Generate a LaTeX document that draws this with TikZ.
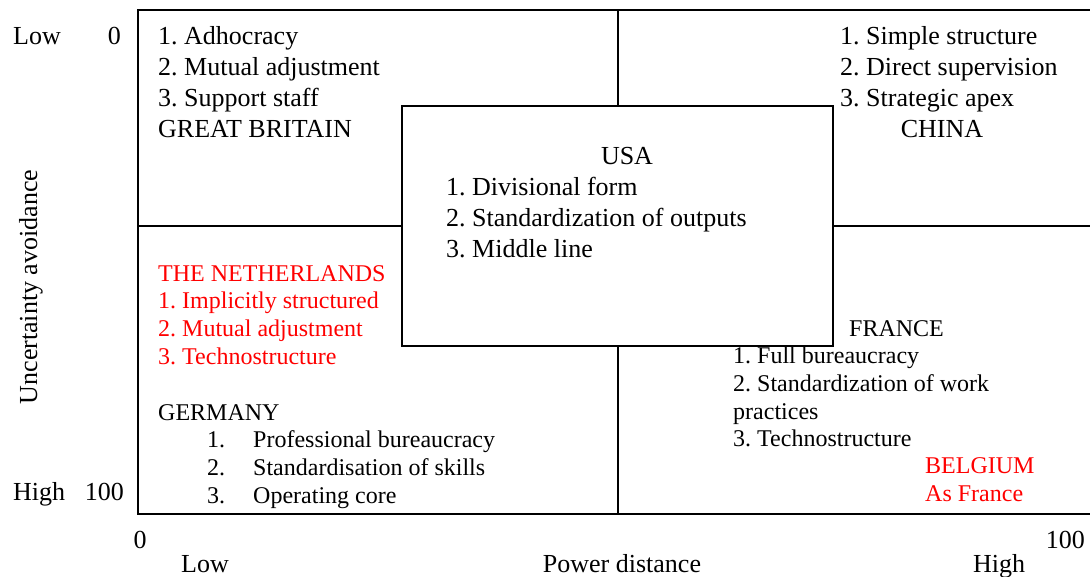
\documentclass[tikz,border=0pt]{standalone}
\usepackage{fontspec}
\setmainfont{Liberation Serif}
\usepackage{tikz}
\frenchspacing
\definecolor{nlred}{RGB}{255,0,0}
\tikzset{
    lbl/.style={inner sep=0pt,anchor=base west,font=\fontsize{26}{31}\selectfont},
    sml/.style={lbl,font=\fontsize{24}{28}\selectfont},
    hot/.style={sml,text=nlred},
    frame/.style={draw,line width=1.8pt},
}

\begin{document}
\begin{tikzpicture}[x=1pt,y=-1pt]
\useasboundingbox (0,0) rectangle (1090,576);
% quadrants
\draw[frame] (138,10) rectangle (1093,514);
\draw[frame] (618,10) -- (618,514);
\draw[frame] (138,226) -- (1093,226);
% USA sits over the crossing
\draw[frame,fill=white] (402,106) rectangle (833,346);

% axes
\node[lbl] (ylow) at (13,44) {Low};
\node[lbl,anchor=base east] (yzero) at (121,44) {0};
\node[lbl] (yhigh) at (13,500) {High};
\node[lbl,anchor=base east] (yhund) at (124,500) {100};
\node[lbl,anchor=center,rotate=90] (yaxis) at (31,287) {Uncertainty avoidance};
\node[lbl,anchor=base] (xzero) at (140,548) {0};
\node[lbl,anchor=base east] (xhund) at (1085,548) {100};
\node[lbl,anchor=base] (xlow) at (205,572) {Low};
\node[lbl,anchor=base] (xaxis) at (622,572) {Power distance};
\node[lbl,anchor=base] (xhigh) at (999,572) {High};

% Great Britain
\foreach \txt [count=\i] in {1. Adhocracy,2. Mutual adjustment,3. Support staff,GREAT BRITAIN}
  \node[lbl] (gb-\i) at (158,{13+31*\i}) {\txt};

% China
\foreach \txt [count=\i] in {1. Simple structure,2. Direct supervision,3. Strategic apex}
  \node[lbl] (cn-\i) at (840,{13+31*\i}) {\txt};
\node[lbl,anchor=base] (cn-4) at (942,137) {CHINA};

% USA
\node[lbl,anchor=base] (us-0) at (627,164) {USA};
\foreach \txt [count=\i] in {1. Divisional form,2. Standardization of outputs,3. Middle line}
  \node[lbl] (us-\i) at (446,{164+31*\i}) {\txt};

% The Netherlands
\foreach \txt [count=\i] in {THE NETHERLANDS,1. Implicitly structured,2. Mutual adjustment,3. Technostructure}
  \node[hot] (nl-\i) at (158,{281+27.7*(\i-1)}) {\txt};

% Germany
\node[sml] (de-0) at (158,420) {GERMANY};
\foreach \n/\txt in {1/Professional bureaucracy,2/Standardisation of skills,3/Operating core}{
  \node[sml] (de-\n n) at (207,{420+27.7*\n}) {\n.};
  \node[sml] (de-\n) at (253,{420+27.7*\n}) {\txt};
}

% France and Belgium
\node[sml] (fr-0) at (849,336) {FRANCE};
\foreach \txt [count=\i] in {1. Full bureaucracy,2. Standardization of work,practices,3. Technostructure}
  \node[sml] (fr-\i) at (733,{336+27.7*\i}) {\txt};
\node[hot] (be-1) at (925,473) {BELGIUM};
\node[hot] (be-2) at (925,501) {As France};
\end{tikzpicture}
\end{document}
